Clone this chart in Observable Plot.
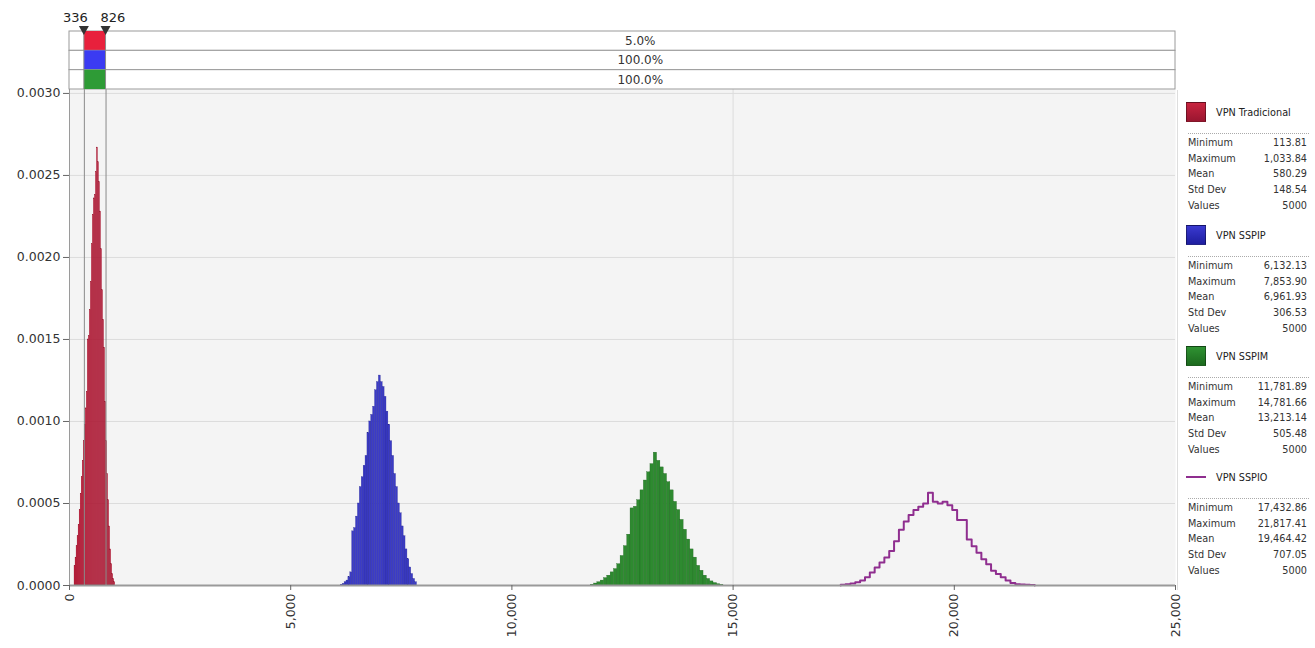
<!DOCTYPE html>
<html><head><meta charset="utf-8">
<script src="https://cdn.jsdelivr.net/npm/d3@7"></script>
<script src="https://cdn.jsdelivr.net/npm/@observablehq/plot@0.6"></script>
<style>
body{margin:0;background:#fff;}
#wrap{position:relative;width:1315px;height:648px;overflow:hidden;font-family:"DejaVu Sans",sans-serif;}
#chart{position:absolute;left:0;top:0;}
#legend{position:absolute;left:1177px;top:90px;width:138px;height:500px;border-left:1px solid #dedede;background:#fff;}
.blk{position:absolute;left:0;width:138px;height:120px;}
.hdr{position:absolute;left:8px;top:0;height:20px;display:flex;align-items:center;font-size:9.7px;color:#222;white-space:nowrap;}
.sw{width:20px;height:20px;margin-right:10px;box-sizing:border-box;border:1px solid rgba(0,0,0,.35);}
.ln{width:20px;height:2px;margin-right:10px;}
.sep{position:absolute;left:10px;width:121px;top:31px;border-top:1px dotted #aaa;}
.row{position:absolute;left:10px;width:119px;height:15.6px;display:flex;justify-content:space-between;align-items:center;font-size:9.7px;color:#333;white-space:nowrap;}
</style></head>
<body>
<div id="wrap"><div id="chart"></div><div id="legend"></div></div>
<script>
// ---------- data ----------
const seriesNames = ["VPN Tradicional", "VPN SSPIP", "VPN SSPIM", "VPN SSPIO"];
const seriesColors = ["#c41f3d", "#3b3bc6", "#2e8a30", "#8f2e8f"];
const bandColors = ["#e8203c", "#3b3bf2", "#2e9b36"];
const bandPct = ["5.0%", "100.0%", "100.0%"];
const markers = [336, 826];
const xTicks = [0, 5000, 10000, 15000, 20000, 25000];
const yTicks = [0, 0.0005, 0.001, 0.0015, 0.002, 0.0025, 0.003];
const statLabels = ["Minimum", "Maximum", "Mean", "Std Dev", "Values"];

const tradMin = 113.81, tradMax = 1033.84;
const tradDensity = [0.00012,0.00017,0.00024,0.0003,0.00037,0.00046,0.00056,0.00066,0.00076,0.00088,
  0.00098,0.00108,0.00118,0.0015,0.00152,0.00168,0.00185,0.00208,0.00226,0.00236,
  0.00238,0.00252,0.00267,0.00258,0.00246,0.00228,0.00205,0.0018,0.00162,0.00145,
  0.00112,0.00088,0.00068,0.00052,0.00036,0.00022,0.00013,0.00007,0.00004,0.00002];
const tradStats = ["113.81", "1,033.84", "580.29", "148.54", "5000"];

const sspipMin = 6132.13, sspipMax = 7853.90;
const sspipDensity = [0.000005,0.00001,0.00002,0.00003,0.00005,0.00008,0.00033,0.00035,0.00042,0.0005,
  0.0006,0.00066,0.00073,0.00079,0.00093,0.001,0.00104,0.00109,0.00119,0.00124,
  0.00128,0.00124,0.00121,0.00115,0.00106,0.00098,0.00088,0.00079,0.00068,0.0006,
  0.0005,0.00044,0.00036,0.0003,0.00022,0.00016,0.00011,0.00007,0.00004,0.00002];
const sspipStats = ["6,132.13", "7,853.90", "6,961.93", "306.53", "5000"];

const sspimMin = 11781.89, sspimMax = 14781.66;
const sspimDensity = [0.000005,0.000012,0.00002,0.00003,0.000045,0.00006,0.00008,0.0001,0.00013,0.00018,
  0.00024,0.00031,0.00047,0.00048,0.00052,0.00058,0.00064,0.00069,0.00074,0.00081,
  0.00076,0.00072,0.00068,0.00063,0.00058,0.00051,0.00046,0.0004,0.00034,0.00028,
  0.00022,0.00017,0.00012,0.00009,0.00006,0.00004,0.000025,0.000015,0.000008,0.000004];
const sspimStats = ["11,781.89", "14,781.66", "13,213.14", "505.48", "5000"];

const sspioMin = 17432.86, sspioMax = 21817.41;
const sspioDensity = [0.000004,0.000008,0.000012,0.00002,0.00003,0.00005,0.00008,0.00011,0.00014,0.00017,
  0.00021,0.00027,0.00034,0.00039,0.00043,0.00046,0.00048,0.0005,0.000565,0.00051,
  0.0005,0.00051,0.00049,0.00046,0.0004,0.0004,0.00028,0.00024,0.0002,0.00016,
  0.00013,0.00009,0.00007,0.00005,0.00003,0.000015,0.000008,0.000006,0.000004,0.000003];
const sspioStats = ["17,432.86", "21,817.41", "19,464.42", "707.05", "5000"];

// ---------- build ----------
function bins(min, max, dens) {
  const w = (max - min) / dens.length;
  return dens.map((d, i) => ({x1: min + i * w, x2: min + (i + 1) * w, d}));
}
function steps(min, max, dens) {
  const w = (max - min) / dens.length;
  return [{x: min, y: 0}, ...dens.map((d, i) => ({x: min + i * w, y: d})), {x: max, y: 0}];
}
const trad = bins(tradMin, tradMax, tradDensity);
const sspip = bins(sspipMin, sspipMax, sspipDensity);
const sspim = bins(sspimMin, sspimMax, sspimDensity);
const sspio = steps(sspioMin, sspioMax, sspioDensity);

const plot = Plot.plot({
  width: 1195, height: 648,
  marginLeft: 69, marginRight: 20, marginTop: 89, marginBottom: 63,
  style: {fontFamily: "DejaVu Sans, sans-serif", fontSize: "12.5px", color: "#333", background: "transparent"},
  x: {domain: [0, 25000], label: null},
  y: {domain: [0, 0.003024], label: null},
  marks: [
    Plot.frame({fill: "#f4f4f4", stroke: null}),
    Plot.gridY(yTicks, {stroke: "#dcdcdc", strokeOpacity: 1}),
    Plot.gridX([15000], {stroke: "#dcdcdc", strokeOpacity: 1}),
    Plot.rectY(trad, {x1: "x1", x2: "x2", y: "d", fill: seriesColors[0], stroke: "#8e1228", strokeWidth: 0.3}),
    Plot.rectY(sspip, {x1: "x1", x2: "x2", y: "d", fill: seriesColors[1], stroke: "#22228f", strokeWidth: 0.3}),
    Plot.rectY(sspim, {x1: "x1", x2: "x2", y: "d", fill: seriesColors[2], stroke: "#1b5e1c", strokeWidth: 0.3}),
    Plot.line(sspio, {x: "x", y: "y", curve: "step-after", stroke: seriesColors[3], strokeWidth: 2}),
    Plot.ruleX(markers, {stroke: "#8a8a8a", strokeWidth: 1}),
    Plot.ruleY([0], {stroke: "#9a9a9a", strokeWidth: 2}),
    Plot.ruleX([0], {stroke: "#9a9a9a", strokeWidth: 1}),
    Plot.axisY(yTicks, {tickFormat: d3.format(".4f"), tickSize: 6, tickPadding: 3, stroke: "#666"}),
    Plot.axisX(xTicks, {tickFormat: d3.format(","), tickRotate: -90, tickSize: 5, tickPadding: 3, stroke: "#666"})
  ]
});
document.getElementById("chart").appendChild(plot);

// ---------- band of percentages above the plot ----------
const sx = plot.scale("x");
const X = v => sx.apply(v);
const svg = d3.select(plot);
const g = svg.append("g");
const bandTop = 31, rowH = 58 / 3;
const xL = X(0), xR = X(25000), xa = X(markers[0]), xb = X(markers[1]);
bandColors.forEach((c, i) => {
  const y0 = bandTop + i * rowH;
  g.append("rect").attr("x", xL).attr("y", y0).attr("width", xR - xL).attr("height", rowH)
    .attr("fill", "#fff").attr("stroke", "#9a9a9a").attr("stroke-width", 1);
  g.append("rect").attr("x", xa).attr("y", y0).attr("width", xb - xa).attr("height", rowH).attr("fill", c);
  g.append("text").attr("x", (xb + xR) / 2).attr("y", y0 + rowH / 2).attr("dy", "0.35em")
    .attr("text-anchor", "middle").attr("font-size", 12).attr("fill", "#333").text(bandPct[i]);
});
[xa, xb].forEach(xp => {
  g.append("line").attr("x1", xp).attr("x2", xp).attr("y1", bandTop).attr("y2", 89).attr("stroke", "#8a8a8a");
  g.append("path").attr("d", `M${xp - 5},${bandTop - 5}L${xp + 5},${bandTop - 5}L${xp},${bandTop + 4}Z`).attr("fill", "#333");
});
g.append("text").attr("x", xa + 4).attr("y", 22).attr("text-anchor", "end").attr("font-size", 13).attr("fill", "#222").text(String(markers[0]));
g.append("text").attr("x", xb - 5).attr("y", 22).attr("text-anchor", "start").attr("font-size", 13).attr("fill", "#222").text(String(markers[1]));

// ---------- legend ----------
const allStats = [tradStats, sspipStats, sspimStats, sspioStats];
const swatchFill = ["linear-gradient(#c8243f,#9a1630)", "linear-gradient(#3a3ad0,#1e1ea0)", "linear-gradient(#2f9232,#1c6a1e)"];
const blockTops = [12, 135, 256, 377];
const legend = document.getElementById("legend");
seriesNames.forEach((name, i) => {
  const b = document.createElement("div");
  b.className = "blk"; b.style.top = blockTops[i] + "px";
  const h = document.createElement("div"); h.className = "hdr";
  const sw = document.createElement("div");
  if (i < 3) { sw.className = "sw"; sw.style.background = swatchFill[i]; }
  else { sw.className = "ln"; sw.style.background = seriesColors[3]; }
  h.appendChild(sw);
  const t = document.createElement("span"); t.textContent = name; h.appendChild(t);
  b.appendChild(h);
  const s = document.createElement("div"); s.className = "sep"; b.appendChild(s);
  statLabels.forEach((lab, j) => {
    const r = document.createElement("div"); r.className = "row";
    r.style.top = (33 + j * 15.6) + "px";
    const a = document.createElement("span"); a.textContent = lab;
    const v = document.createElement("span"); v.textContent = allStats[i][j];
    r.appendChild(a); r.appendChild(v); b.appendChild(r);
  });
  legend.appendChild(b);
});
</script>
</body></html>
